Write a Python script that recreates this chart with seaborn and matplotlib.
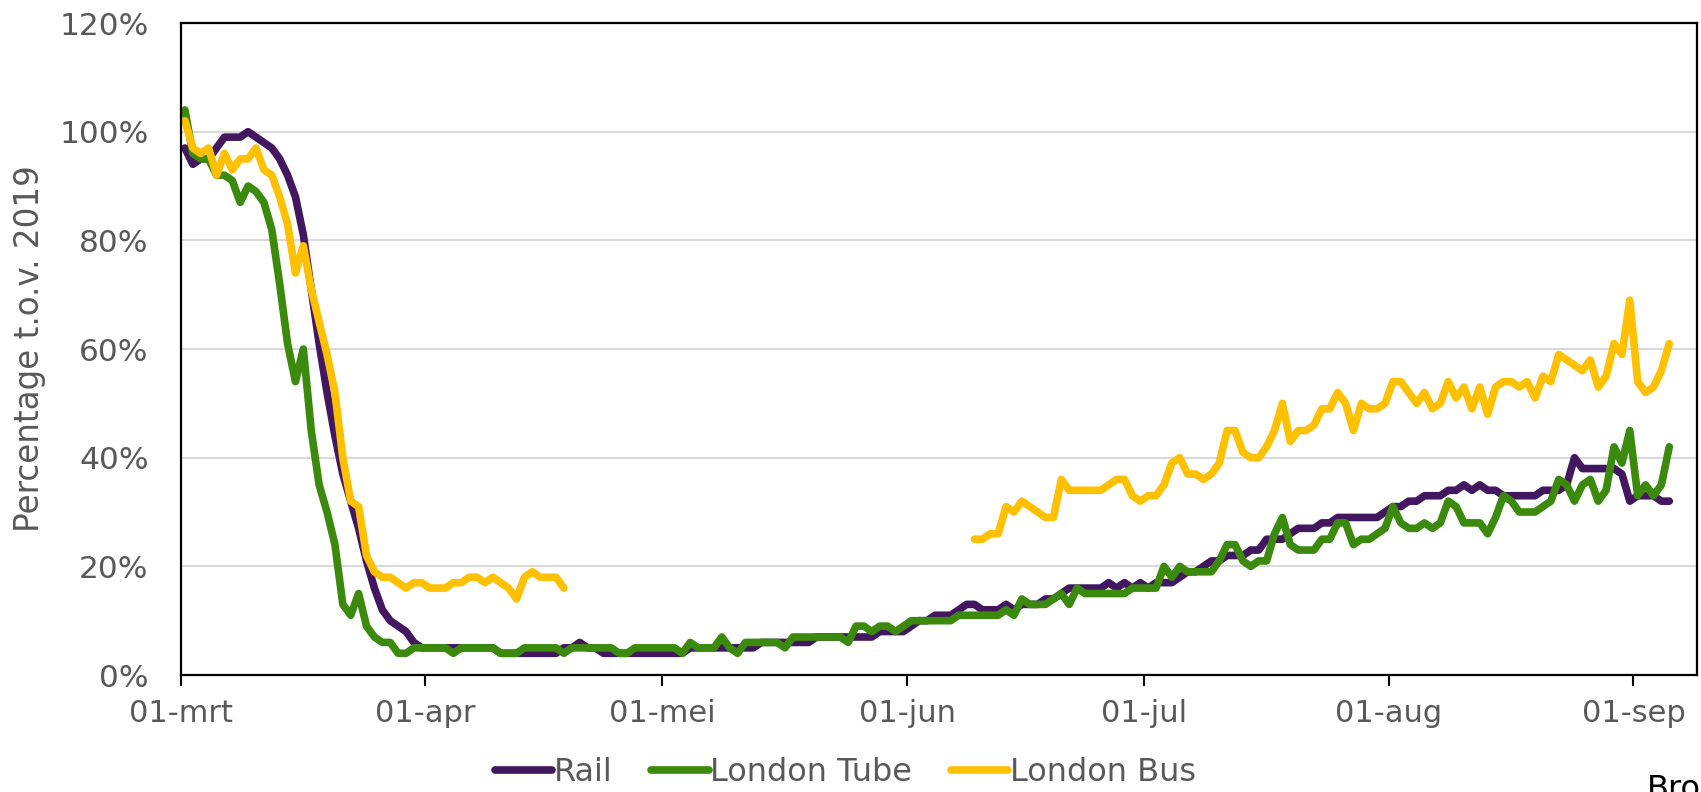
import numpy as np
import pandas as pd
import matplotlib
matplotlib.use('Agg')
import matplotlib.pyplot as plt
import seaborn as sns
from matplotlib.lines import Line2D
from matplotlib.ticker import FuncFormatter

# Daily values (% of 2019), starting 01-mrt-2020
rail = [
    97, 94, 95, 95, 97, 99, 99, 99, 100, 99,
    98, 97, 95, 92, 88, 81, 71, 61, 52, 44,
    37, 32, 27, 21, 16, 12, 10, 9, 8, 6,
    5, 5, 5, 5, 5, 5, 5, 5, 5, 5,
    4, 4, 4, 4, 4, 4, 4, 4, 5, 5,
    6, 5, 5, 4, 4, 4, 4, 4, 4, 4,
    4, 4, 4, 4, 5, 5, 5, 5, 5, 5,
    5, 5, 5, 6, 6, 6, 6, 6, 6, 6,
    7, 7, 7, 7, 7, 7, 7, 7, 8, 8,
    8, 8, 9, 10, 10, 11, 11, 11, 12, 13,
    13, 12, 12, 12, 13, 12, 13, 13, 13, 14,
    14, 15, 16, 16, 16, 16, 16, 17, 16, 17,
    16, 17, 16, 17, 17, 17, 18, 19, 19, 20,
    21, 21, 22, 22, 22, 23, 23, 25, 25, 25,
    26, 27, 27, 27, 28, 28, 29, 29, 29, 29,
    29, 29, 30, 31, 31, 32, 32, 33, 33, 33,
    34, 34, 35, 34, 35, 34, 34, 33, 33, 33,
    33, 33, 34, 34, 34, 35, 40, 38, 38, 38,
    38, 38, 37, 32, 33, 33, 33, 32, 32,
]

tube = [
    104, 96, 95, 95, 92, 92, 91, 87, 90, 89,
    87, 82, 72, 61, 54, 60, 45, 35, 30, 24,
    13, 11, 15, 9, 7, 6, 6, 4, 4, 5,
    5, 5, 5, 5, 4, 5, 5, 5, 5, 5,
    4, 4, 4, 5, 5, 5, 5, 5, 4, 5,
    5, 5, 5, 5, 5, 4, 4, 5, 5, 5,
    5, 5, 5, 4, 6, 5, 5, 5, 7, 5,
    4, 6, 6, 6, 6, 6, 5, 7, 7, 7,
    7, 7, 7, 7, 6, 9, 9, 8, 9, 9,
    8, 9, 10, 10, 10, 10, 10, 10, 11, 11,
    11, 11, 11, 11, 12, 11, 14, 13, 13, 13,
    14, 15, 13, 16, 15, 15, 15, 15, 15, 15,
    16, 16, 16, 16, 20, 18, 20, 19, 19, 19,
    19, 21, 24, 24, 21, 20, 21, 21, 26, 29,
    24, 23, 23, 23, 25, 25, 28, 28, 24, 25,
    25, 26, 27, 31, 28, 27, 27, 28, 27, 28,
    32, 31, 28, 28, 28, 26, 29, 33, 32, 30,
    30, 30, 31, 32, 36, 35, 32, 35, 36, 32,
    34, 42, 39, 45, 33, 35, 33, 35, 42,
]

bus = [
    102, 97, 96, 97, 92, 96, 93, 95, 95, 97,
    93, 92, 88, 83, 74, 79, 71, 65, 59, 52,
    40, 32, 31, 22, 19, 18, 18, 17, 16, 17,
    17, 16, 16, 16, 17, 17, 18, 18, 17, 18,
    17, 16, 14, 18, 19, 18, 18, 18, 16,
] + [None] * 51 + [
    25, 25, 26, 26, 31, 30, 32, 31, 30, 29,
    29, 36, 34, 34, 34, 34, 34, 35, 36, 36,
    33, 32, 33, 33, 35, 39, 40, 37, 37, 36,
    37, 39, 45, 45, 41, 40, 40, 42, 45, 50,
    43, 45, 45, 46, 49, 49, 52, 50, 45, 50,
    49, 49, 50, 54, 54, 52, 50, 52, 49, 50,
    54, 51, 53, 49, 53, 48, 53, 54, 54, 53,
    54, 51, 55, 54, 59, 58, 57, 56, 58, 53,
    55, 61, 59, 69, 54, 52, 53, 56, 61,
]

series_names = ['Rail', 'London Tube', 'London Bus']
colors = ['#431660', '#3B8A0E', '#FFC000']
month_ticks = ['2020-03-01', '2020-04-01', '2020-05-01', '2020-06-01',
               '2020-07-01', '2020-08-01', '2020-09-01']
month_labels = ['01-mrt', '01-apr', '01-mei', '01-jun', '01-jul', '01-aug', '01-sep']

# Build long table; bus gets two segments so the gap stays open
dates = pd.date_range('2020-03-01', periods=len(rail), freq='D') + pd.Timedelta(hours=13)
frames = []
for name, vals in zip(series_names, [rail, tube, bus]):
    d = pd.DataFrame({'date': dates, 'value': np.array(vals, dtype=float), 'series': name})
    d['segment'] = d['value'].isna().cumsum()
    frames.append(d.dropna())
df = pd.concat(frames, ignore_index=True)

sns.set_theme(style='white')
plt.rcParams['font.family'] = ['DejaVu Sans']

fig = plt.figure(figsize=(17.01, 7.92), dpi=100)
ax = fig.add_axes([0.1062, 0.1477, 0.8912, 0.8232])

sns.lineplot(data=df, x='date', y='value', hue='series', hue_order=series_names,
             units='segment', estimator=None, palette=colors, linewidth=5.5,
             legend=False, ax=ax, solid_joinstyle='round', solid_capstyle='round')

start = pd.Timestamp('2020-03-01')
ax.set_xlim(start, start + pd.Timedelta(days=192))
ax.set_ylim(0, 120)
ax.set_yticks(range(0, 121, 20))
ax.yaxis.set_major_formatter(FuncFormatter(lambda v, p: f'{v:.0f}%'))
ax.set_xticks(pd.to_datetime(month_ticks))
ax.set_xticklabels(month_labels)

ax.yaxis.grid(True, color='#D9D9D9', linewidth=1.5)
ax.xaxis.grid(False)
ax.set_axisbelow(True)

for s in ax.spines.values():
    s.set_visible(True)
    s.set_color('black')
    s.set_linewidth(1.6)

ax.tick_params(axis='y', left=False, length=0, pad=23, labelsize=22.5, labelcolor='#595959')
ax.tick_params(axis='x', bottom=True, length=8, width=1.5, color='black', pad=9,
               labelsize=22, labelcolor='#595959')

ax.set_xlabel('')
ax.set_ylabel('Percentage t.o.v. 2019', fontsize=23.5, color='#595959')
ax.yaxis.set_label_coords(-0.089, 0.5)

handles = [Line2D([0], [0], color=c, lw=5.5, solid_capstyle='round') for c in colors]
ax.legend(handles, series_names, loc='center', bbox_to_anchor=(0.497, 0.024),
          bbox_transform=fig.transFigure, ncol=3, frameon=False, fontsize=23,
          handlelength=1.8, handletextpad=0.05, columnspacing=1.2, labelcolor='#595959')

# source note, cut off by the bottom edge as in the original
fig.text(0.968, -0.008, 'Bron', fontsize=23, color='black')

fig.savefig('out.png', dpi=100)
